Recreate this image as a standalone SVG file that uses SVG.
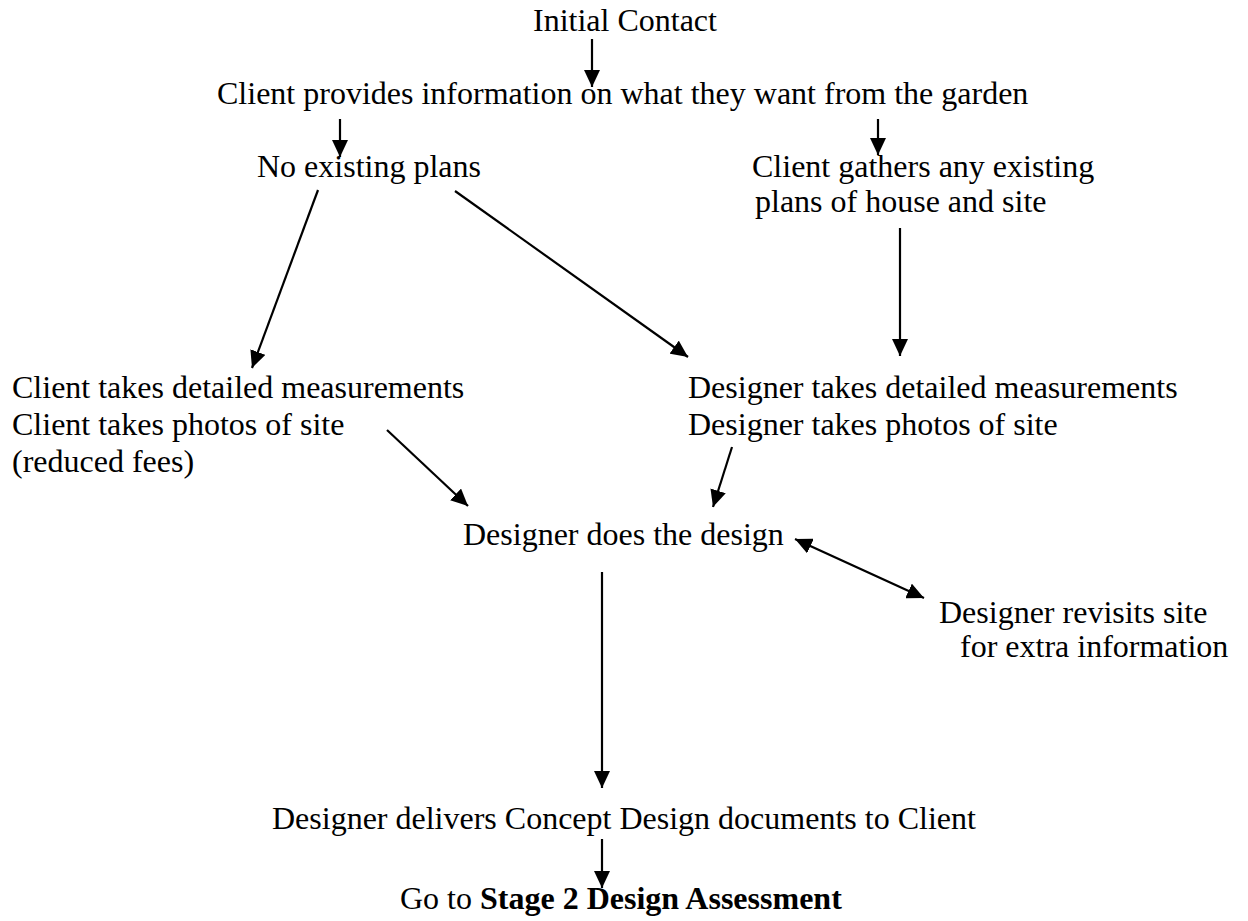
<svg xmlns="http://www.w3.org/2000/svg" width="1248" height="921" viewBox="0 0 1248 921">
<defs>
<style>
text{font-family:"Liberation Serif","Times New Roman",serif;font-size:32px;fill:#000}
.b{font-weight:bold}
.c{stroke:#000;stroke-width:2.2;fill:none;marker-end:url(#ah)}
.d{marker-start:url(#ah)}
</style>
<marker id="ah" markerUnits="userSpaceOnUse" markerWidth="18" markerHeight="16" refX="17" refY="8" orient="auto-start-reverse" viewBox="0 0 18 16">
<path d="M0,0 L17,8 L0,16 z" fill="#000"/>
</marker>
</defs>
<rect width="1248" height="921" fill="#fff"/>
<g id="n-initial"><text x="533" y="31">Initial Contact</text></g>
<g id="n-client-info"><text x="217" y="104">Client provides information on what they want from the garden</text></g>
<g id="n-no-plans"><text x="257" y="177">No existing plans</text></g>
<g id="n-existing-plans"><text x="752" y="177">Client gathers any existing</text><text x="755" y="212">plans of house and site</text></g>
<g id="n-client-measure"><text x="12" y="398">Client takes detailed measurements</text><text x="12" y="435">Client takes photos of site</text><text x="12" y="472">(reduced fees)</text></g>
<g id="n-designer-measure"><text x="688" y="398">Designer takes detailed measurements</text><text x="688" y="435">Designer takes photos of site</text></g>
<g id="n-design"><text x="463" y="545">Designer does the design</text></g>
<g id="n-revisit"><text x="939" y="623">Designer revisits site</text><text x="960" y="657">for extra information</text></g>
<g id="n-deliver"><text x="272" y="829">Designer delivers Concept Design documents to Client</text></g>
<g id="n-stage2"><text x="400" y="909">Go to <tspan class="b">Stage 2 Design Assessment</tspan></text></g>
<g id="connectors">
<line class="c" x1="592" y1="39" x2="592" y2="87"/>
<line class="c" x1="340" y1="119" x2="340" y2="157"/>
<line class="c" x1="878" y1="119" x2="878" y2="155"/>
<line class="c" x1="318" y1="190" x2="252" y2="368"/>
<line class="c" x1="455" y1="191" x2="688" y2="357"/>
<line class="c" x1="900" y1="228" x2="900" y2="356"/>
<line class="c" x1="387" y1="430" x2="468" y2="506"/>
<line class="c" x1="732" y1="447" x2="713" y2="507"/>
<line class="c d" x1="795" y1="539" x2="924" y2="598"/>
<line class="c" x1="602" y1="572" x2="602" y2="788"/>
<line class="c" x1="602" y1="839" x2="602" y2="888"/>
</g>
</svg>
